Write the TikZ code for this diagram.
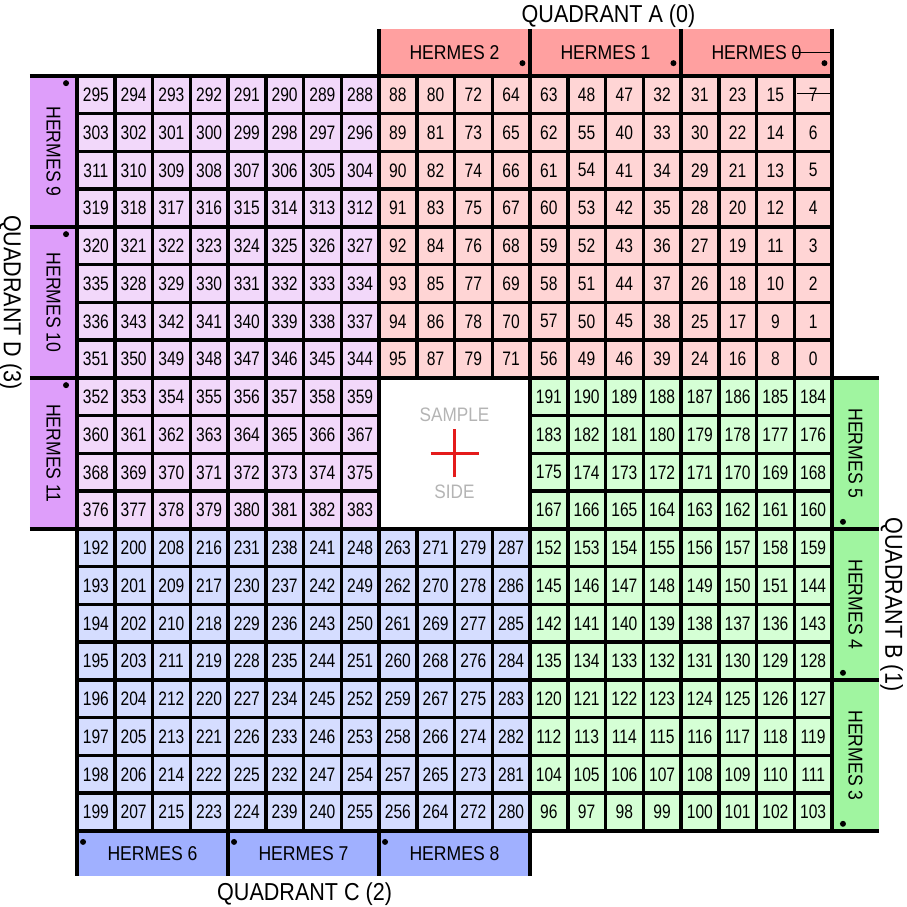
\documentclass[tikz,border=0pt]{standalone}
\usepackage{fontspec}
\setmainfont{Liberation Sans}[FakeStretch=0.88]
\newfontfamily\numfont{Liberation Sans}[FakeStretch=0.8]
\usepackage{graphicx}
\usetikzlibrary{positioning}
\definecolor{QuadRed}{HTML}{FFA0A0}
\definecolor{SoftRed}{HTML}{FFD5D5}
\definecolor{QuadGreen}{HTML}{A0F5A0}
\definecolor{SoftGreen}{HTML}{D5FFD5}
\definecolor{QuadBlue}{HTML}{A0B0FF}
\definecolor{SoftBlue}{HTML}{D5DDFF}
\definecolor{QuadViolet}{HTML}{DE9EFA}
\definecolor{SoftViolet}{HTML}{F2D8FA}
\definecolor{SampleGrey}{HTML}{B4B4B4}
\definecolor{CrossRed}{HTML}{E41B1B}
\tikzset{
  PX/.style={rectangle,draw=black,line width=3.5pt,
             minimum size=37.75pt,inner sep=0pt,outer sep=0pt,
             font=\numfont\fontsize{19.5}{19.5}\selectfont},
  pA/.style={PX,fill=SoftRed},
  pB/.style={PX,fill=SoftGreen},
  pC/.style={PX,fill=SoftBlue},
  pD/.style={PX,fill=SoftViolet},
  HB/.style={rectangle,inner sep=0pt,outer sep=0pt,
             font=\fontsize{20}{20}\selectfont},
  hA/.style={HB,fill=QuadRed,   minimum width=151pt,minimum height=47pt},
  hB/.style={HB,fill=QuadGreen, minimum width=47pt, minimum height=151pt},
  hC/.style={HB,fill=QuadBlue,  minimum width=151pt,minimum height=45pt},
  hD/.style={HB,fill=QuadViolet,minimum width=47pt, minimum height=151pt},
  QL/.style={inner sep=0pt,font=\fontsize{24.5}{24.5}\selectfont},
  SL/.style={inner sep=0pt,font=\fontsize{19.5}{19.5}\selectfont,text=SampleGrey},
  SEP/.style={line width=3.5pt},
  DT/.style={fill=black}
}

\begin{document}
\begin{tikzpicture}[x=37.75pt,y=-37.75pt]
  \useasboundingbox (-2.04,-2.013) rectangle (21.987,22.013);

  \node[hA] (h2) at (10,-0.623) {HERMES 2};
  \node[hA] (h1) at (14,-0.623) {HERMES 1};
  \node[hA] (h0) at (18,-0.623) {HERMES 0};
  \node[hD] (h9)  at (-0.623,2)  {\rotatebox{-90}{HERMES 9}};
  \node[hD] (h10) at (-0.623,6)  {\rotatebox{-90}{HERMES 10}};
  \node[hD] (h11) at (-0.623,10) {\rotatebox{-90}{HERMES 11}};
  \node[hB] (h5) at (20.623,10) {\rotatebox{-90}{HERMES 5}};
  \node[hB] (h4) at (20.623,14) {\rotatebox{-90}{HERMES 4}};
  \node[hB] (h3) at (20.623,18) {\rotatebox{-90}{HERMES 3}};
  \node[hC] (h6) at (2,20.596)  {HERMES 6};
  \node[hC] (h7) at (6,20.596)  {HERMES 7};
  \node[hC] (h8) at (10,20.596) {HERMES 8};

  \foreach \row [count=\r from 0] in {
    {295,294,293,292,291,290,289,288},
    {303,302,301,300,299,298,297,296},
    {311,310,309,308,307,306,305,304},
    {319,318,317,316,315,314,313,312},
    {320,321,322,323,324,325,326,327},
    {335,328,329,330,331,332,333,334},
    {336,343,342,341,340,339,338,337},
    {351,350,349,348,347,346,345,344},
    {352,353,354,355,356,357,358,359},
    {360,361,362,363,364,365,366,367},
    {368,369,370,371,372,373,374,375},
    {376,377,378,379,380,381,382,383}}
    \foreach \n [count=\c from 0] in \row
      \node[pD] (p\n) at (\c+0.5,\r+0.5) {\n};

  \foreach \row [count=\r from 0] in {
    {88,80,72,64,63,48,47,32,31,23,15,7},
    {89,81,73,65,62,55,40,33,30,22,14,6},
    {90,82,74,66,61,54,41,34,29,21,13,5},
    {91,83,75,67,60,53,42,35,28,20,12,4},
    {92,84,76,68,59,52,43,36,27,19,11,3},
    {93,85,77,69,58,51,44,37,26,18,10,2},
    {94,86,78,70,57,50,45,38,25,17,9,1},
    {95,87,79,71,56,49,46,39,24,16,8,0}}
    \foreach \n [count=\c from 0] in \row
      \node[pA] (p\n) at (\c+8.5,\r+0.5) {\n};

  \foreach \row [count=\r from 0] in {
    {191,190,189,188,187,186,185,184},
    {183,182,181,180,179,178,177,176},
    {175,174,173,172,171,170,169,168},
    {167,166,165,164,163,162,161,160},
    {152,153,154,155,156,157,158,159},
    {145,146,147,148,149,150,151,144},
    {142,141,140,139,138,137,136,143},
    {135,134,133,132,131,130,129,128},
    {120,121,122,123,124,125,126,127},
    {112,113,114,115,116,117,118,119},
    {104,105,106,107,108,109,110,111},
    {96,97,98,99,100,101,102,103}}
    \foreach \n [count=\c from 0] in \row
      \node[pB] (p\n) at (\c+12.5,\r+8.5) {\n};

  \foreach \row [count=\r from 0] in {
    {192,200,208,216,231,238,241,248,263,271,279,287},
    {193,201,209,217,230,237,242,249,262,270,278,286},
    {194,202,210,218,229,236,243,250,261,269,277,285},
    {195,203,211,219,228,235,244,251,260,268,276,284},
    {196,204,212,220,227,234,245,252,259,267,275,283},
    {197,205,213,221,226,233,246,253,258,266,274,282},
    {198,206,214,222,225,232,247,254,257,265,273,281},
    {199,207,215,223,224,239,240,255,256,264,272,280}}
    \foreach \n [count=\c from 0] in \row
      \node[pC] (p\n) at (\c+0.5,\r+12.5) {\n};

  \draw[SEP] (h2.north west)--(h2.south west) (h1.north west)--(h1.south west)
             (h0.north west)--(h0.south west) (h0.north east)--(h0.south east);
  \draw[SEP] (h9.north west)--(h9.north east) (h10.north west)--(h10.north east)
             (h11.north west)--(h11.north east) (h11.south west)--(h11.south east);
  \draw[SEP] (h5.north west)--(h5.north east) (h4.north west)--(h4.north east)
             (h3.north west)--(h3.north east) (h3.south west)--(h3.south east);
  \draw[SEP] (h6.north west)--(h6.south west) (h7.north west)--(h7.south west)
             (h8.north west)--(h8.south west) (h8.north east)--(h8.south east);

  \foreach \h in {h2,h1,h0}
    \fill[DT] ([shift={(-0.2,-0.34)}]\h.south east) circle (3pt);
  \foreach \h in {h9,h10,h11}
    \fill[DT] ([shift={(-0.29,0.19)}]\h.north east) circle (3pt);
  \foreach \h in {h5,h4,h3}
    \fill[DT] ([shift={(0.29,-0.19)}]\h.south west) circle (3pt);
  \foreach \h in {h6,h7,h8}
    \fill[DT] ([shift={(0.16,0.29)}]\h.north west) circle (3pt);

  \draw[line width=0.8pt] ([xshift=35pt]h0.center) -- (h0.east);
  \draw[line width=0.8pt] ([xshift=-16pt,yshift=1.4pt]p7.center) -- ([yshift=1.4pt]p7.east);

  \node[SL] (smp) at (10,8.98) {SAMPLE};
  \node[SL] (sde) at (10,11.02) {SIDE};
  \coordinate (ctr) at (10,10);
  \draw[CrossRed,line width=2.2pt] ([xshift=-24pt]ctr) -- ([xshift=24pt]ctr)
                                   ([yshift=-24pt]ctr) -- ([yshift=24pt]ctr);

  \node[QL] (qa) at (14.08,-1.58) {QUADRANT A (0)};
  \node[QL,rotate=-90] (qd) at (-1.77,6) {QUADRANT D (3)};
  \node[QL,rotate=-90] (qb) at (21.58,14) {QUADRANT B (1)};
  \node[QL] (qc) at (6.03,21.68) {QUADRANT C (2)};
\end{tikzpicture}
\end{document}
